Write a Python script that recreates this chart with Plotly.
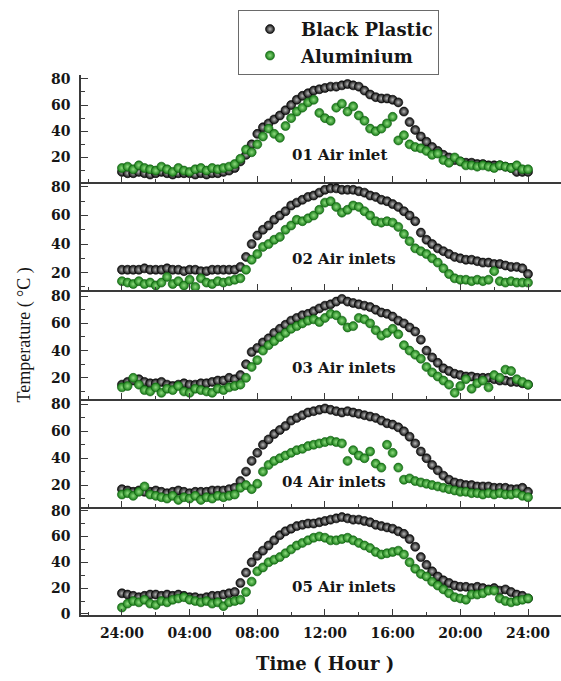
import numpy as np
import plotly.graph_objects as go

# sampling: every 20 minutes from 0 h (24:00) to 24 h (24:00)
times = np.arange(0, 24 + 1e-9, 1 / 3)

x_tick_vals = [0, 4, 8, 12, 16, 20, 24]
x_tick_text = ["24:00", "04:00", "08:00", "12:00", "16:00", "20:00", "24:00"]

panel_labels = ["01 Air inlet", "02 Air inlets", "03 Air inlets", "04 Air inlets", "05 Air inlets"]

black_1 = [9, 8, 8, 9, 8, 7, 8, 9, 8, 7, 8, 8, 8, 7, 8, 7, 8, 8, 9, 10, 12,
           17, 22, 30, 38, 43, 46, 49, 52, 56, 60, 64, 67, 69, 71, 72, 73, 74, 74,
           75, 76, 75, 74, 71, 68, 66, 65, 65, 64, 62, 55, 47, 41, 36, 32, 28, 25,
           22, 20, 18, 17, 16, 16, 15, 15, 14, 14, 14, 13, 12, 9, 9, 9]
alu_1 = [12, 13, 11, 14, 12, 11, 10, 13, 11, 9, 12, 10, 9, 11, 12, 10, 12, 11, 12, 13, 15,
         19, 26, 24, 30, 36, 42, 38, 35, 44, 50, 55, 58, 62, 64, 54, 50, 48, 58,
         61, 55, 59, 52, 48, 42, 40, 42, 46, 51, 33, 37, 30, 28, 27, 25, 22, 23,
         18, 16, 20, 17, 14, 14, 13, 14, 13, 12, 14, 13, 12, 14, 11, 11]

black_2 = [22, 22, 22, 22, 23, 22, 22, 22, 23, 22, 22, 21, 22, 22, 21, 21, 22, 22, 22, 22, 22,
           24, 31, 40, 46, 50, 53, 57, 60, 63, 67, 69, 71, 73, 74, 76, 78, 79, 79,
           78, 78, 78, 77, 76, 74, 73, 71, 70, 68, 66, 63, 60, 56, 48, 43, 40, 37,
           35, 33, 31, 30, 29, 29, 28, 27, 27, 26, 26, 25, 24, 24, 23, 19]
alu_2 = [14, 13, 12, 14, 12, 13, 11, 13, 17, 12, 14, 11, 15, 10, 16, 13, 12, 14, 13, 14, 15,
         16, 22, 29, 33, 38, 40, 43, 45, 50, 53, 57, 56, 58, 60, 64, 69, 70, 66,
         62, 64, 67, 66, 63, 60, 56, 55, 56, 55, 52, 47, 42, 37, 35, 33, 30, 27,
         23, 19, 16, 15, 15, 14, 15, 14, 15, 21, 14, 13, 14, 13, 13, 13]

black_3 = [15, 17, 18, 19, 17, 16, 16, 17, 15, 14, 15, 16, 15, 15, 16, 16, 17, 18, 18, 20, 19,
           22, 30, 39, 42, 46, 49, 53, 56, 59, 62, 64, 66, 67, 69, 71, 73, 74, 76,
           78, 76, 75, 74, 73, 72, 70, 68, 67, 65, 62, 60, 57, 54, 48, 40, 35, 31,
           27, 25, 23, 22, 21, 21, 20, 20, 20, 19, 18, 18, 17, 17, 16, 15]
alu_3 = [13, 14, 20, 15, 11, 10, 13, 9, 12, 11, 14, 10, 9, 12, 11, 10, 9, 12, 11, 13, 14,
         15, 20, 28, 33, 40, 44, 47, 50, 53, 56, 58, 60, 62, 63, 61, 64, 67, 66,
         62, 57, 58, 64, 63, 60, 55, 51, 53, 56, 52, 44, 40, 37, 34, 28, 24, 21,
         18, 15, 9, 14, 19, 12, 16, 18, 13, 22, 20, 26, 25, 19, 17, 15]

black_4 = [17, 16, 15, 16, 15, 15, 16, 15, 14, 15, 16, 15, 14, 15, 15, 15, 16, 16, 16, 17, 18,
           23, 30, 38, 44, 50, 54, 58, 61, 64, 68, 70, 72, 74, 75, 76, 77, 76, 75,
           74, 75, 74, 73, 72, 71, 70, 68, 66, 65, 63, 60, 56, 51, 45, 40, 35, 31,
           27, 24, 22, 21, 20, 20, 19, 19, 19, 18, 18, 18, 17, 17, 18, 15]
alu_4 = [13, 14, 12, 15, 19, 13, 12, 11, 10, 12, 9, 11, 10, 12, 9, 11, 10, 12, 11, 12, 13,
         18, 20, 17, 21, 30, 35, 38, 40, 42, 44, 46, 47, 49, 50, 51, 52, 53, 52,
         51, 38, 46, 42, 40, 45, 36, 33, 50, 44, 33, 24, 25, 23, 22, 21, 20, 19,
         18, 17, 16, 15, 15, 14, 14, 13, 14, 13, 14, 13, 13, 14, 12, 11]

black_5 = [16, 15, 14, 13, 14, 15, 15, 14, 15, 14, 15, 14, 13, 13, 12, 13, 14, 14, 15, 16, 17,
           24, 32, 40, 45, 49, 53, 57, 61, 64, 66, 68, 69, 70, 70, 71, 72, 73, 74,
           75, 74, 73, 73, 72, 71, 69, 68, 67, 66, 64, 62, 58, 52, 44, 38, 33, 29,
           26, 24, 22, 21, 21, 20, 21, 20, 19, 20, 18, 19, 17, 15, 14, 12]
alu_5 = [5, 8, 10, 9, 11, 8, 7, 10, 9, 11, 12, 13, 11, 10, 9, 10, 8, 9, 6, 9, 10,
         11, 17, 25, 33, 36, 40, 42, 44, 47, 50, 53, 55, 57, 59, 60, 59, 57, 57,
         58, 59, 57, 55, 53, 51, 48, 46, 47, 48, 49, 46, 40, 35, 31, 29, 25, 22,
         19, 16, 13, 12, 11, 15, 15, 16, 18, 18, 12, 10, 9, 10, 11, 12]

black_series = [black_1, black_2, black_3, black_4, black_5]
alu_series = [alu_1, alu_2, alu_3, alu_4, alu_5]

# ---------------- layout geometry (pixels) ----------------
W, H = 561, 681
panel_px = [(72, 181), (181, 291), (291, 401), (401, 511), (511, 621)]
y_ranges = [[1.25, 83], [7.6, 83.4], [4.8, 84.3], [3.9, 84.4], [-0.8, 83]]
x_range = [-2.42, 25.95]
left_px = 81

label_pos = [(339, 153), (344, 259), (344, 370), (334, 486), (344, 593)]

AX = "#3a3a3a"
TXT = "#161616"
TICKFONT = dict(family="DejaVu Serif", size=14, color=TXT, weight="bold")

fig = go.Figure()

for i in range(5):
    sx = "" if i == 0 else str(i + 1)
    fig.add_trace(go.Scatter(
        x=times, y=black_series[i], mode="markers", name="Black Plastic",
        legendgroup="bp", showlegend=(i == 0),
        xaxis="x" + sx, yaxis="y" + sx,
        marker=dict(size=9, color="#0a0a0a",
                    gradient=dict(type="radial", color="#b8b8b8"),
                    line=dict(width=0.6, color="#000000")),
    ))
    fig.add_trace(go.Scatter(
        x=times, y=alu_series[i], mode="markers", name="Aluminium",
        legendgroup="al", showlegend=(i == 0),
        xaxis="x" + sx, yaxis="y" + sx,
        marker=dict(size=9, color="#157a15",
                    gradient=dict(type="radial", color="#8fdc7f"),
                    line=dict(width=0.6, color="#0d5a0d")),
    ))

layout = dict(
    width=W, height=H, autosize=False,
    margin=dict(l=0, r=0, t=0, b=0),
    paper_bgcolor="white", plot_bgcolor="white",
    showlegend=True,
    legend=dict(
        x=238 / W, y=1 - 6 / H, xanchor="left", yanchor="top",
        bordercolor="#6a6a6a", borderwidth=1, bgcolor="white",
        font=dict(family="DejaVu Serif", size=18, color=TXT, weight="bold"),
        itemsizing="trace", tracegroupgap=0, itemwidth=52,
    ),
)

for i in range(5):
    top, bot = panel_px[i]
    sx = "" if i == 0 else str(i + 1)
    xdom = [left_px / W, 1.0]
    ydom = [1 - bot / H, 1 - top / H]
    is_bottom = (i == 4)
    layout["xaxis" + sx] = dict(
        domain=xdom, anchor="y" + sx, range=x_range,
        showline=True, linecolor=AX, linewidth=1.6,
        showgrid=False, zeroline=False,
        tickmode="array", tickvals=x_tick_vals, ticktext=x_tick_text,
        ticks="inside", ticklen=6, tickwidth=1.4, tickcolor=AX,
        minor=dict(ticks="inside", ticklen=3, tickwidth=1.2, tickcolor=AX,
                   tickmode="linear", tick0=0, dtick=2),
        showticklabels=is_bottom, tickfont=TICKFONT, ticklabelstandoff=4,
        fixedrange=True,
    )
    yvals = [0, 20, 40, 60, 80] if is_bottom else [20, 40, 60, 80]
    layout["yaxis" + sx] = dict(
        domain=ydom, anchor="x" + sx, range=y_ranges[i],
        showline=True, linecolor=AX, linewidth=1.6,
        showgrid=False, zeroline=False,
        tickmode="array", tickvals=yvals, ticktext=[str(v) for v in yvals],
        ticks="inside", ticklen=7, tickwidth=1.4, tickcolor=AX,
        minor=dict(ticks="inside", ticklen=4, tickwidth=1.2, tickcolor=AX,
                   tickmode="linear", tick0=0, dtick=10),
        tickfont=TICKFONT, ticklabelstandoff=6,
        fixedrange=True,
    )

annotations = []
for i, (lx, ly) in enumerate(label_pos):
    annotations.append(dict(
        text=panel_labels[i], x=lx / W, y=1 - ly / H, xref="paper", yref="paper",
        xanchor="center", yanchor="middle", showarrow=False,
        font=dict(family="DejaVu Serif", size=15, color=TXT, weight="bold"),
    ))
annotations.append(dict(
    text="Time ( Hour )", x=325 / W, y=1 - 670 / H, xref="paper", yref="paper",
    xanchor="center", yanchor="middle", showarrow=False,
    font=dict(family="DejaVu Serif", size=18, color=TXT, weight="bold"),
))
annotations.append(dict(
    text="Temperature ( °C )", x=25 / W, y=1 - 337 / H, xref="paper", yref="paper",
    xanchor="center", yanchor="middle", showarrow=False, textangle=-90,
    font=dict(family="Liberation Serif", size=18, color=TXT),
))
layout["annotations"] = annotations

fig.update_layout(**layout)

reset_page = (
    "var s=document.createElement('style');"
    "s.textContent='html,body{margin:0;padding:0;overflow:hidden;height:681px;}';"
    "document.head.appendChild(s);"
)
fig.write_html("out.html", config={"displayModeBar": False, "responsive": False},
               post_script=reset_page)
